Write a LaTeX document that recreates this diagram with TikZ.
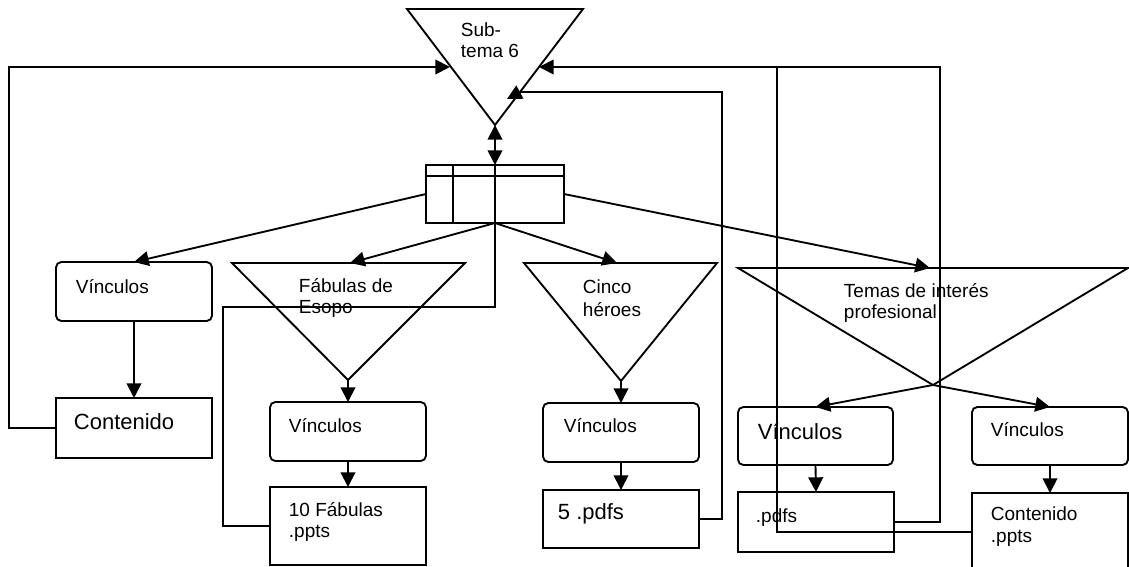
\documentclass[tikz,border=0pt]{standalone}
\usepackage{fontspec}
\setmainfont{Liberation Sans}
\usetikzlibrary{arrows.meta,fit}
\begin{document}
\begin{tikzpicture}[x=0.75pt,y=-0.75pt,line width=1.4pt,
  linkbox/.style={draw, rounded corners=4pt, inner sep=0pt, outer sep=0pt},
  filebox/.style={draw, inner sep=0pt, outer sep=0pt},
  lbl/.style={anchor=base west, inner sep=0pt, font=\fontsize{14.25}{17}\selectfont},
  lblbig/.style={lbl, font=\fontsize{16.5}{19}\selectfont},
  arr/.style={-{Triangle[length=11pt,width=11pt]}},
  dblarr/.style={{Triangle[length=11pt,width=11pt]}-{Triangle[length=11pt,width=11pt]}}]
\path[use as bounding box] (0,0) rectangle (1129,567);
\clip (0,0) rectangle (1129,567);

% main sub-topic triangle
\coordinate (s6a) at (407,9);
\coordinate (s6b) at (583,9);
\coordinate (s6tip) at (495,125);
\draw (s6a) -- (s6b) -- (s6tip) -- cycle;
\node[lbl] (tsub) at (460,37) {Sub-};
\node[lbl] (ttema) at (460,58) {tema 6};

% menu table
\node[filebox, fit={(426,165) (564,223)}] (tab) {};
\draw (tab.north west |- 0,176) -- (tab.north east |- 0,176);
\draw (453,165) -- (453,223);
\draw (tab.north) -- (tab.south);
\draw[dblarr] (s6tip) -- (tab.north);

% branch triangles
\coordinate (fa) at (232,263);
\coordinate (fb) at (465,263);
\coordinate (ftip) at (348,380);
\coordinate (ftop) at (350,263);
\draw (fa) -- (fb) -- (ftip) -- cycle;

\coordinate (ca) at (524,263);
\coordinate (cb) at (717,263);
\coordinate (ctip) at (621,381);
\coordinate (ctop) at (617,263);
\draw (ca) -- (cb) -- (ctip) -- cycle;

\coordinate (ta) at (738,268);
\coordinate (tb) at (1128,268);
\coordinate (ttip) at (933,385);
\coordinate (ttop) at (930,268);
\draw (ta) -- (tb) -- (ttip) -- cycle;

% boxes
\node[linkbox, fit={(56,262) (212,321)}] (v1) {};
\node[filebox, fit={(56,398) (212,458)}] (c1) {};
\node[linkbox, fit={(270,402) (426,461)}] (v2) {};
\node[filebox, fit={(270,487) (426,565)}] (f2) {};
\node[linkbox, fit={(543,403) (699,462)}] (v3) {};
\node[filebox, fit={(543,490) (699,548)}] (p5) {};
\node[linkbox, fit={(738,407) (893,465)}] (v4) {};
\node[filebox, fit={(738,492) (894,552)}] (pd) {};
\node[linkbox, fit={(972,407) (1128,465)}] (v5) {};
\node[filebox, fit={(972,493) (1128,571)}] (cp) {};

% labels
\node[lbl] (tv1) at (75,293) {Vínculos};
\node[lblbig] (tc1) at (73,429) {Contenido};
\node[lbl] (tfab1) at (298,292) {Fábulas de};
\node[lbl] (tfab2) at (298,313) {Esopo};
\node[lbl] (tv2) at (288,432) {Vínculos};
\node[lbl] (tf1) at (288,516) {10 Fábulas};
\node[lbl] (tf2) at (288,537) {.ppts};
\node[lbl] (tci1) at (582,293) {Cinco};
\node[lbl] (tci2) at (582,316) {héroes};
\node[lbl] (tv3) at (563,432) {Vínculos};
\node[lblbig] (tp5) at (557,519) {5 .pdfs};
\node[lbl] (tte1) at (843,297) {Temas de interés};
\node[lbl] (tte2) at (843,318) {profesional};
\node[lblbig] (tv4) at (757,439) {Vínculos};
\node[lbl] (tpd) at (755,522) {.pdfs};
\node[lbl] (tv5) at (990,436) {Vínculos};
\node[lbl] (tcp1) at (990,520) {Contenido};
\node[lbl] (tcp2) at (990,542) {.ppts};

% fan-out from the table
\draw[arr] (tab.west) -- (v1.north);
\draw[arr] (tab.south) -- (ftop);
\draw[arr] (tab.south) -- (ctop);
\draw[arr] (tab.east) -- (ttop);

% downward links
\draw[arr] (v1.south) -- (c1.north);
\draw[arr] (ftip) -- (v2.north);
\draw[arr] (v2.south) -- (f2.north);
\draw[arr] (ctip) -- (v3.north);
\draw[arr] (v3.south) -- (p5.north);
\draw[arr] (ttip) -- (v4.north);
\draw[arr] (ttip) -- (v5.north);
\draw[arr] (v4.south) -- (pd.north);
\draw[arr] (v5.south) -- (cp.north);

% return paths
\coordinate (r1) at (9,67);
\coordinate (s6l) at (450,67);
\draw[arr] (c1.west) -| (r1) -- (s6l);

\coordinate (r2) at (223,307);
\coordinate (r2b) at (495,307);
\draw (f2.west) -| (r2) -- (r2b) -- (tab.south);

\coordinate (r3) at (722,92);
\coordinate (r3b) at (520,92);
\coordinate (s6m) at (507,99);
\draw[arr] (p5.east) -| (r3) -- (r3b) -- (s6m);

\coordinate (r4) at (940,67);
\coordinate (s6r) at (539,67);
\draw[arr] (pd.east) -| (r4) -- (s6r);

\coordinate (r5) at (777,67);
\draw (cp.west) -| (r5);
\end{tikzpicture}
\end{document}
